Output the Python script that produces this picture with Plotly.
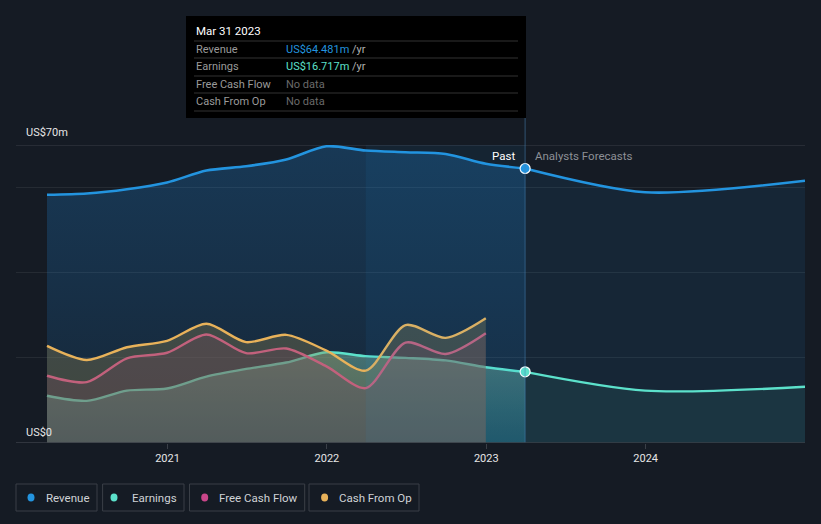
import plotly.graph_objects as go

# ---------------- data ----------------
past_dates = ['2020-03-31', '2020-06-30', '2020-09-30', '2020-12-31', '2021-03-31',
              '2021-06-30', '2021-09-30', '2021-12-31', '2022-03-31', '2022-06-30',
              '2022-09-30', '2022-12-31', '2023-03-31']
revenue_past = [58.3, 58.6, 59.6, 61.2, 64.0, 65.0, 66.6, 69.7, 68.7, 68.3, 67.9, 65.6, 64.481]
earnings_past = [11.1, 9.9, 12.3, 12.8, 15.6, 17.4, 18.9, 21.3, 20.4, 20.0, 19.4, 17.8, 16.717]

cf_dates = past_dates[:12]
fcf = [15.8, 14.3, 19.9, 21.2, 25.5, 21.1, 22.2, 18.0, 12.9, 23.6, 20.9, 25.8]
cfo = [22.8, 19.5, 22.5, 24.0, 28.0, 23.7, 25.4, 21.7, 17.0, 27.7, 24.7, 29.3]

fc_dates = ['2023-03-31', '2023-12-31', '2024-12-31']
revenue_fc = [64.481, 58.9, 61.6]
earnings_fc = [16.717, 12.3, 13.2]

tick_vals = ['2021-01-01', '2022-01-01', '2023-01-01', '2024-01-01']
tick_text = ['2021', '2022', '2023', '2024']
legend_names = ['Revenue', 'Earnings', 'Free Cash Flow', 'Cash From Op']

# ---------------- styles ----------------
BG = '#151b24'
C_REV = '#2394df'
C_EARN = '#5ce1cb'
C_FCF = '#d94f93'
C_CFO = '#e8b25a'
FONT = 'Roboto, "Open Sans", sans-serif'

W, H = 821, 524
L, R, T, B = 16, 16, 145, 81
PW, PH = W - L - R, H - T - B


def px(xp):
    return (xp - L) / PW


def py(yp):
    return (H - B - yp) / PH


fig = go.Figure()

# revenue past
fig.add_trace(go.Scatter(
    x=past_dates, y=revenue_past, mode='lines',
    line=dict(color=C_REV, width=2.6, shape='spline', smoothing=0.8),
    fill='tozeroy',
    fillgradient=dict(type='vertical', start=0, stop=70,
                      colorscale=[[0, 'rgba(33,150,243,0.09)'], [1, 'rgba(33,150,243,0.24)']]),
    hoverinfo='skip'))
# revenue forecast
fig.add_trace(go.Scatter(
    x=fc_dates, y=revenue_fc, mode='lines',
    line=dict(color=C_REV, width=2.6, shape='spline', smoothing=0.8),
    fill='tozeroy', fillcolor='rgba(33,150,243,0.09)', hoverinfo='skip'))

# earnings past
fig.add_trace(go.Scatter(
    x=past_dates, y=earnings_past, mode='lines',
    line=dict(color=C_EARN, width=2.4, shape='spline', smoothing=0.8),
    fill='tozeroy',
    fillgradient=dict(type='vertical', start=0, stop=21.3,
                      colorscale=[[0, 'rgba(60,200,210,0.28)'], [1, 'rgba(140,210,180,0.42)']]),
    hoverinfo='skip'))
# earnings forecast
fig.add_trace(go.Scatter(
    x=fc_dates, y=earnings_fc, mode='lines',
    line=dict(color=C_EARN, width=2.4, shape='spline', smoothing=0.8),
    fill='tozeroy', fillcolor='rgba(94,232,208,0.08)', hoverinfo='skip'))

# free cash flow
fig.add_trace(go.Scatter(
    x=cf_dates, y=fcf, mode='lines',
    line=dict(color=C_FCF, width=2.4, shape='spline', smoothing=0.8),
    fill='tozeroy', fillcolor='rgba(95,45,100,0.30)', hoverinfo='skip'))
# cash from op
fig.add_trace(go.Scatter(
    x=cf_dates, y=cfo, mode='lines',
    line=dict(color=C_CFO, width=2.4, shape='spline', smoothing=0.8),
    fill='tozeroy', fillcolor='rgba(150,135,80,0.33)', hoverinfo='skip'))

# hover markers at Mar 31 2023
fig.add_trace(go.Scatter(
    x=[past_dates[-1]], y=[revenue_past[-1]], mode='markers',
    marker=dict(color=C_REV, size=10, line=dict(color='#ffffff', width=1.2)), hoverinfo='skip'))
fig.add_trace(go.Scatter(
    x=[past_dates[-1]], y=[earnings_past[-1]], mode='markers',
    marker=dict(color=C_EARN, size=10, line=dict(color='#ffffff', width=1.2)), hoverinfo='skip'))

shapes = []
# highlighted last-year band
shapes.append(dict(type='rect', xref='x', yref='y', x0=past_dates[8], x1=past_dates[12], y0=0, y1=70,
                   fillcolor='rgba(33,150,243,0.07)', line=dict(width=0), layer='above'))
# vertical hover line
shapes.append(dict(type='line', xref='x', yref='paper', x0=past_dates[12], x1=past_dates[12],
                   y0=0, y1=py(118), line=dict(color='rgba(70,130,180,0.45)', width=1.2), layer='above'))
# top line (70m) and bottom axis line
shapes.append(dict(type='line', xref='paper', yref='y', x0=0, x1=1, y0=70, y1=70,
                   line=dict(color='#3a3f47', width=1.2), layer='below'))
shapes.append(dict(type='line', xref='paper', yref='y', x0=0, x1=1, y0=0, y1=0,
                   line=dict(color='#3a3f47', width=1.5), layer='above'))

# tooltip box
shapes.append(dict(type='rect', xref='paper', yref='paper', x0=px(186), x1=px(526), y0=py(118), y1=py(16),
                   fillcolor='#000000', line=dict(width=0), layer='above'))
for yy in [41, 58, 76, 93, 111]:
    shapes.append(dict(type='line', xref='paper', yref='paper', x0=px(194), x1=px(518), y0=py(yy), y1=py(yy),
                       line=dict(color='#333333', width=1), layer='above'))

annotations = []


def text(x, y, s, color, size=11, xanchor='left'):
    annotations.append(dict(xref='paper', yref='paper', x=px(x), y=py(y), text=s, showarrow=False,
                            xanchor=xanchor, yanchor='middle', font=dict(color=color, size=size, family=FONT)))


text(194, 31, 'Mar 31 2023', '#ffffff', 11.5)
rows = [('Revenue', f"<span style='color:{C_REV}'>US$64.481m</span> /yr"),
        ('Earnings', f"<span style='color:{C_EARN}'>US$16.717m</span> /yr"),
        ('Free Cash Flow', "<span style='color:#6a6a6a'>No data</span>"),
        ('Cash From Op', "<span style='color:#6a6a6a'>No data</span>")]
for (lab, val), yy in zip(rows, [49.5, 66.5, 84, 101.5]):
    text(194, yy, lab, '#9a9a9a', 11)
    text(284, yy, val, '#b0b0b0', 11)

text(24, 132, 'US$70m', '#e6e6e6', 11)
text(24, 432, 'US$0', '#e6e6e6', 11)
text(517, 156, 'Past', '#ffffff', 11.5, 'right')
text(533, 156, 'Analysts Forecasts', '#8d9096', 11.5)

# legend boxes
legend_boxes = [(16, 97, 31, 44), (102.6, 184, 114, 130), (189.5, 304.7, 204.7, 217), (309, 419, 324.6, 337)]
legend_colors = [C_REV, C_EARN, '#c9468a', C_CFO]
for (x0, x1, dx, tx), name, col in zip(legend_boxes, legend_names, legend_colors):
    shapes.append(dict(type='rect', xref='paper', yref='paper', x0=px(x0), x1=px(x1), y0=py(511), y1=py(484),
                       fillcolor='rgba(0,0,0,0)', line=dict(color='#3a3f47', width=1)))
    shapes.append(dict(type='circle', xref='paper', yref='paper', x0=px(dx - 3.5), x1=px(dx + 3.5),
                       y0=py(497.5 + 4), y1=py(497.5 - 4), fillcolor=col, line=dict(width=0)))
    text(tx, 497.5, name, '#cfd2d6', 11.5)

fig.update_layout(
    width=W, height=H, margin=dict(l=L, r=R, t=T, b=B),
    paper_bgcolor=BG, plot_bgcolor=BG, showlegend=False,
    font=dict(family=FONT, color='#e0e0e0'),
    shapes=shapes, annotations=annotations,
    hovermode=False,
)
fig.update_xaxes(type='date', range=['2020-01-20', '2024-12-31'], tickvals=tick_vals, ticktext=tick_text,
                 showgrid=False, zeroline=False, showline=False, ticks='outside', ticklen=5,
                 tickcolor='#3a3f47', tickfont=dict(color='#e6e6e6', size=11, family=FONT),
                 ticklabelstandoff=0, fixedrange=True)
fig.update_yaxes(range=[0, 70], tickvals=[20, 40, 60], showticklabels=False, gridcolor='rgba(255,255,255,0.07)',
                 gridwidth=1, zeroline=False, showline=False, fixedrange=True)

fig.write_html('out.html', config={'displayModeBar': False},
               post_script="document.body.style.margin='0';document.body.style.background='%s';" % BG)
